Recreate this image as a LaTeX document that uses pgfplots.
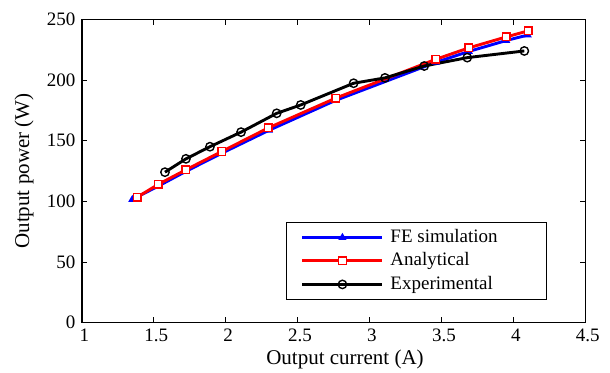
\documentclass[border=0pt]{standalone}
\usepackage{fontspec}
\setmainfont{Liberation Serif}
\usepackage{pgfplots}
\pgfplotsset{compat=1.18}
\begin{document}
\fontsize{9.5}{11}\selectfont
\begin{tikzpicture}
\begin{axis}[
  scale only axis, width=251.7pt, height=151.7pt,
  xmin=1, xmax=4.5, ymin=0, ymax=250,
  xtick={1,1.5,2,2.5,3,3.5,4,4.5},
  xticklabels={1,1.5,2,2.5,3,3.5,4,4.5},
  ytick={0,50,100,150,200,250},
  yticklabels={0,50,100,150,200,250},
  tick align=inside, major tick length=2.7pt,
  tick style={black, line width=0.45pt},
  axis line style={line width=0.55pt},
  xlabel={Output current (A)}, ylabel={Output power (W)},
  ticklabel style={font=\rmfamily\fontsize{9.5}{11}\selectfont},
  xticklabel style={xshift=1.2pt},
  label style={font=\rmfamily\fontsize{10.5}{12}\selectfont},
  xlabel style={at={(axis description cs:0.5225,-0.12)}, anchor=center},
  ylabel style={at={(axis description cs:-0.115,0.5)}, anchor=center},
  legend cell align=left,
  legend style={at={(0.4053,0.332)}, anchor=north west, draw=black, line width=0.6pt,
    font=\fontsize{9.5}{11}\selectfont, row sep=0pt, column sep=0pt,
    inner xsep=7.2pt, inner ysep=1.6pt,
    nodes={inner xsep=3.3pt, inner ysep=1.37pt, text height=7pt, text depth=2pt}},
  legend image code/.code={
    \draw[#1, mark=none] (0pt,0pt) -- (40pt,0pt);
    \draw[#1, only marks] plot coordinates {(20pt,0pt)};
  },
]
\addplot[blue, line width=1.45pt, mark=triangle*, mark size=0.9pt, mark options={solid}]
coordinates {
(1.35,101.5) (1.53,112.5) (1.72,124.5) (1.97,139.5) (2.30,158.5) (2.76,183) (3.46,214.5) (3.69,223.5) (3.95,232.5) (4.10,237)
};
\addlegendentry{FE simulation\hspace*{14pt}}
\addplot[red, line width=1.45pt, mark=square*, mark size=1.9pt, mark options={solid, fill=white, line width=0.7pt}]
coordinates {
(1.385,103.5) (1.531,114) (1.723,126) (1.971,141) (2.296,160.5) (2.764,185) (3.460,217) (3.691,226.5) (3.951,235.5) (4.104,240.5)
};
\addlegendentry{Analytical}
\addplot[black, line width=1.45pt, mark=o, mark size=2.1pt, mark options={solid, fill=white, line width=0.7pt}]
coordinates {
(1.577,124) (1.723,135) (1.890,145) (2.106,157) (2.354,172.5) (2.521,179.4) (2.889,197.3) (3.107,201.7) (3.380,211.5) (3.679,218.4) (4.076,223.9)
};
\addlegendentry{Experimental}
\end{axis}
\pgfresetboundingbox
\path ([xshift=-41pt,yshift=-25.15pt]current axis.south west) rectangle ([xshift=12.35pt,yshift=9.65pt]current axis.north east);
\end{tikzpicture}
\end{document}
